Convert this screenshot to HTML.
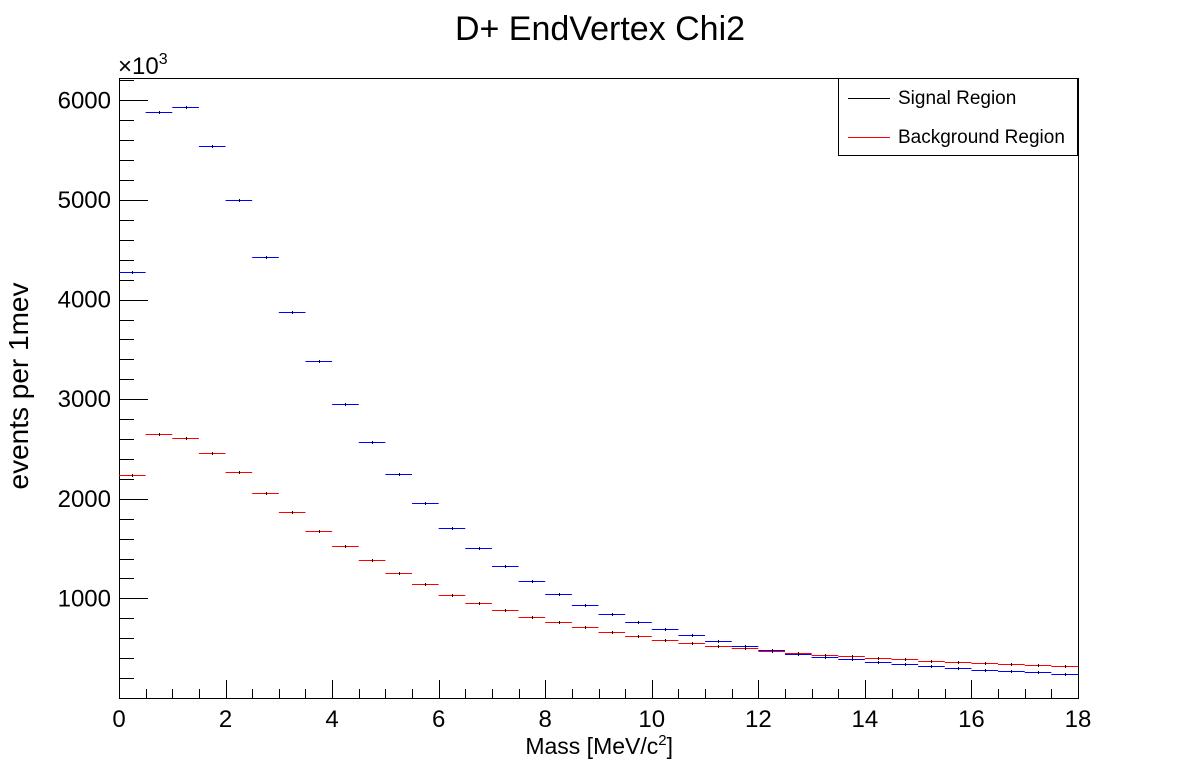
<!DOCTYPE html>
<html><head><meta charset="utf-8"><style>
body{margin:0;background:#fff;}
svg{display:block;font-family:"Liberation Sans",Arial,sans-serif;}
</style></head><body>
<svg id="chart" width="1198" height="776">
<text x="600" y="40" font-size="34" text-anchor="middle">D+ EndVertex Chi2</text>
<rect x="119.5" y="78.5" width="959" height="620" fill="none" stroke="#000" stroke-width="1"/>
<g id="axes"></g>
<g id="marks"></g>
<text x="673" y="754" font-size="23" text-anchor="end">Mass [MeV/c<tspan dy="-9" font-size="15">2</tspan><tspan dy="9">]</tspan></text>
<text transform="translate(28,386) rotate(-90)" font-size="28" text-anchor="middle">events per 1mev</text>
<text x="118" y="74" font-size="24">×10<tspan dy="-10" font-size="16">3</tspan></text>
<g>
<rect x="838.5" y="78.5" width="239" height="77" fill="#fff" stroke="#000"/>
<line x1="848" y1="98.5" x2="890" y2="98.5" stroke="#000"/>
<text x="898" y="104" font-size="19">Signal Region</text>
<line x1="848" y1="137.5" x2="890" y2="137.5" stroke="#f00"/>
<text x="898" y="143" font-size="19">Background Region</text>
</g>
</svg>
<script>
const binEdgesStart = 0;
const binWidth = 0.5;
const signalValues = [4274,5880,5934,5539,4997,4428,3875,3384,2949,2567,2246,1955,1710,1508,1327,1176,1045,935,843,763,693,633,572,522,478,441,411,391,360,340,319,299,279,269,259,239];
const backgroundValues = [2236,2648,2607,2457,2266,2055,1867,1677,1526,1386,1255,1145,1038,955,884,813,763,713,663,622,582,552,522,502,472,452,432,422,402,391,371,361,351,341,331,321];
const xTickLabels = [0,2,4,6,8,10,12,14,16,18];
const yTickLabels = [1000,2000,3000,4000,5000,6000];

const X0=119,X1=1078,Y0=698,Y1=78;
const xMin=0,xMax=18,yMin=0,yMax=6225;
function xs(v){return X0+(v-xMin)/(xMax-xMin)*(X1-X0);}
function ys(v){return Y0-(v-yMin)/(yMax-yMin)*(Y0-Y1);}
function px(v){return Math.round(v)+0.5;}
const NS="http://www.w3.org/2000/svg";
const axes=document.getElementById('axes');
const marks=document.getElementById('marks');
function mk(tag,attrs,parent){const e=document.createElementNS(NS,tag);for(const k in attrs)e.setAttribute(k,attrs[k]);parent.appendChild(e);return e;}

for(let v=0;v<=18.001;v+=0.5){
  const major=Math.abs(v/2-Math.round(v/2))<1e-6;
  const t=mk('line',{x1:px(xs(v)),x2:px(xs(v)),y1:Y0,y2:Y0-(major?18:9),stroke:'#000'},axes);
  
  
}
xTickLabels.forEach(v=>{
  const t=mk('text',{x:xs(v),y:727,'font-size':24,'text-anchor':'middle'},axes);
  t.textContent=v;
  
  
});
for(let v=200;v<=6200;v+=200){
  const major=v%1000===0;
  const t=mk('line',{x1:X0,x2:X0+(major?29:15),y1:px(ys(v)),y2:px(ys(v)),stroke:'#000'},axes);
  
  
}
yTickLabels.forEach(v=>{
  const t=mk('text',{x:111,y:ys(v)+8,'font-size':24,'text-anchor':'end'},axes);
  t.textContent=v;
  
  
});
function drawSeries(vals,color,name){
  vals.forEach((v,i)=>{
    const a=binEdgesStart+i*binWidth,b=a+binWidth,c=a+binWidth/2;
    const l=mk('line',{x1:xs(a),x2:xs(b),y1:px(ys(v)),y2:px(ys(v)),stroke:color,'stroke-width':1},marks);
    
    
    const e=mk('line',{x1:px(xs(c)),x2:px(xs(c)),y1:px(ys(v))-1.5,y2:px(ys(v))+1.5,stroke:'#000','stroke-width':1},marks);
    
    
  });
}
drawSeries(backgroundValues,'#f00','background');
drawSeries(signalValues,'#00f','signal');
</script>
</body></html>
